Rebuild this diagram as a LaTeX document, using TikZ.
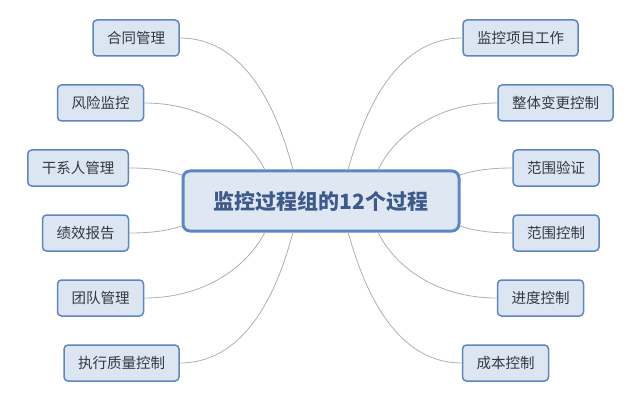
\documentclass[tikz,border=0pt]{standalone}
\usepackage{fontspec}
\setmainfont{Noto Sans CJK SC}
\definecolor{leaffill}{HTML}{DCE6F2}
\definecolor{leafdraw}{HTML}{5E86BF}
\definecolor{mainfill}{HTML}{DFE7F3}
\definecolor{maindraw}{HTML}{5B87C5}
\definecolor{maintext}{HTML}{3C5A8A}
\definecolor{leaftext}{HTML}{333840}
\definecolor{linkcol}{HTML}{A9B0BC}
\tikzset{
  leaf/.style={draw=leafdraw, fill=leaffill, line width=1.5pt, rounded corners=4pt,
    minimum height=36pt, inner xsep=14pt, text=leaftext,
    font=\fontsize{14.5}{17}\selectfont},
  hub/.style={draw=maindraw, fill=mainfill, line width=3pt, rounded corners=7pt,
    minimum width=276pt, minimum height=60pt, text=maintext,
    font=\fontsize{21}{25}\selectfont\bfseries},
  link/.style={draw=linkcol, line width=0.8pt}
}
\begin{document}
\begin{tikzpicture}[x=1pt,y=-1pt]
\useasboundingbox (0,0) rectangle (640,401);
\fill[white] (0,0) rectangle (640,401);
\node[hub] (c) at (321,201) {监控过程组的12个过程};
% left
\node[leaf] (l1) at (136,38) {合同管理};
\node[leaf] (l2) at (100.5,103) {风险监控};
\node[leaf] (l3) at (78,168) {干系人管理};
\node[leaf] (l4) at (85.5,233) {绩效报告};
\node[leaf] (l5) at (100.5,298) {团队管理};
\node[leaf] (l6) at (121.5,363) {执行质量控制};
% right
\node[leaf] (r1) at (520.5,38) {监控项目工作};
\node[leaf] (r2) at (555.5,103) {整体变更控制};
\node[leaf] (r3) at (556,168) {范围验证};
\node[leaf] (r4) at (556,233) {范围控制};
\node[leaf] (r5) at (540.5,298) {进度控制};
\node[leaf] (r6) at (505.5,363) {成本控制};
% coordinates on hub
\coordinate (cl1) at (293,170);
\coordinate (cl2) at (265,170);
\coordinate (cl3) at (182,175);
\coordinate (cl4) at (182,226);
\coordinate (cl5) at (265,232);
\coordinate (cl6) at (293,232);
\coordinate (cr1) at (348,170);
\coordinate (cr2) at (378,170);
\coordinate (cr3) at (460,175);
\coordinate (cr4) at (460,226);
\coordinate (cr5) at (378,232);
\coordinate (cr6) at (348,232);
\draw[link] (l1.east) .. controls (250,38) and (280,120) .. (cl1);
\draw[link] (l2.east) .. controls (210,103) and (250,140) .. (cl2);
\draw[link] (l3.east) .. controls (155,168) and (170,171) .. (cl3);
\draw[link] (l4.east) .. controls (155,233) and (170,230) .. (cl4);
\draw[link] (l5.east) .. controls (210,298) and (250,262) .. (cl5);
\draw[link] (l6.east) .. controls (250,363) and (280,282) .. (cl6);
\draw[link] (r1.west) .. controls (392,38) and (362,120) .. (cr1);
\draw[link] (r2.west) .. controls (432,103) and (392,140) .. (cr2);
\draw[link] (r3.west) .. controls (487,168) and (472,171) .. (cr3);
\draw[link] (r4.west) .. controls (487,233) and (472,230) .. (cr4);
\draw[link] (r5.west) .. controls (432,298) and (392,262) .. (cr5);
\draw[link] (r6.west) .. controls (392,363) and (362,282) .. (cr6);
\end{tikzpicture}
\end{document}
